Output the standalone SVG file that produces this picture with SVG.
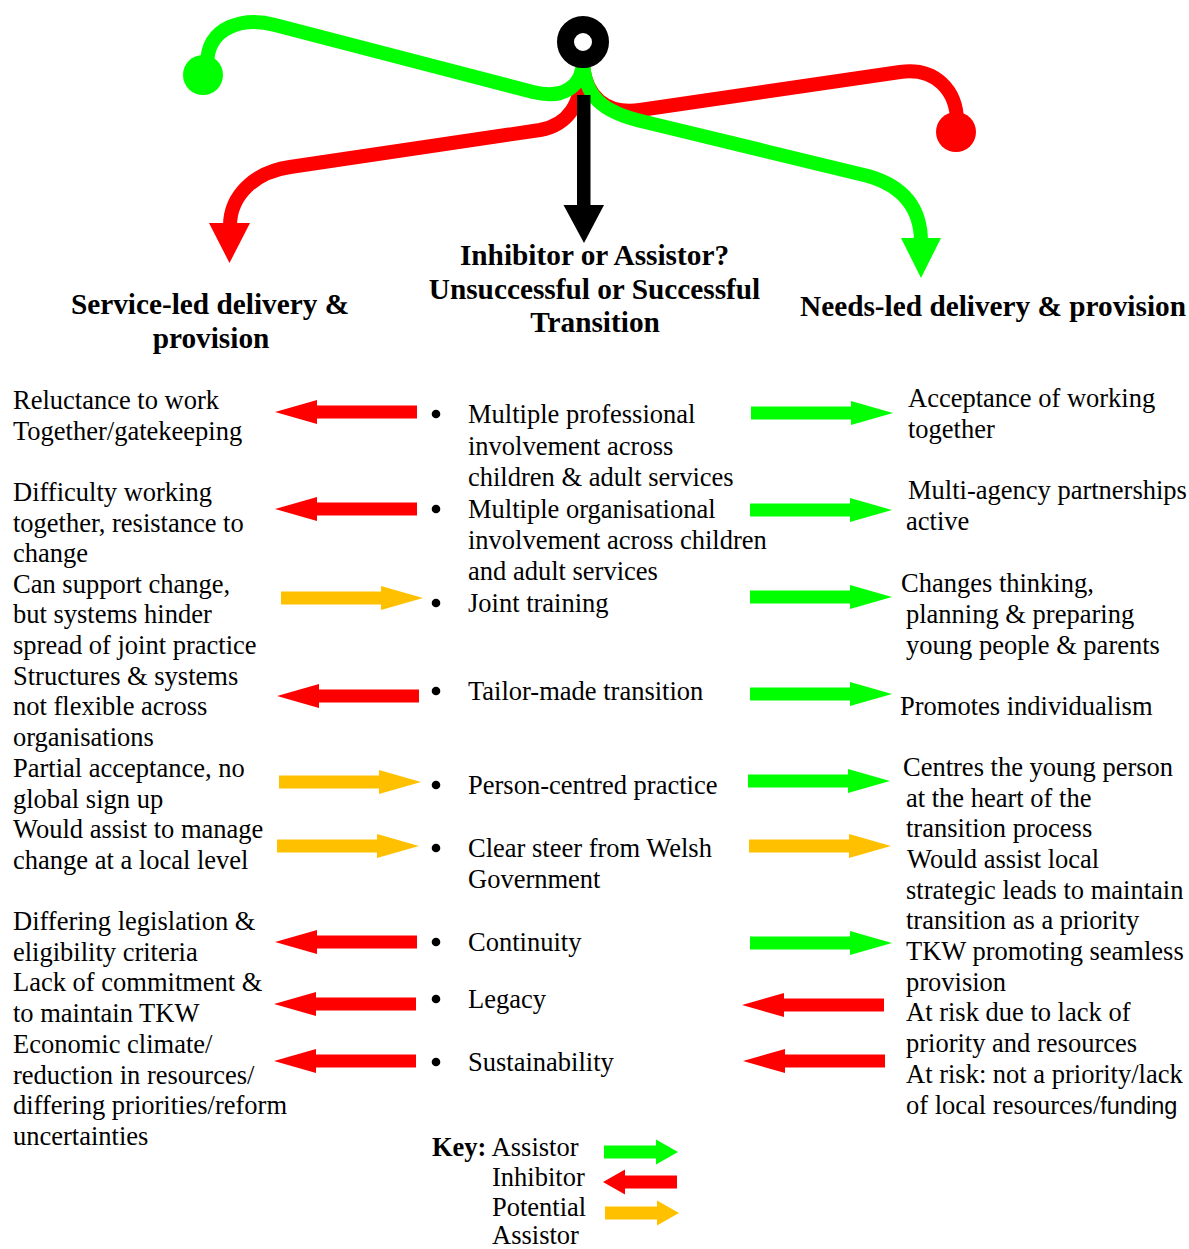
<svg xmlns="http://www.w3.org/2000/svg" xmlns:xlink="http://www.w3.org/1999/xlink" width="1189" height="1249" viewBox="0 0 1189 1249">
  <style>
    .t { font-family: "Liberation Serif", "Times New Roman", serif; font-size: 26.5px; fill: #000; }
    .h { font-family: "Liberation Serif", "Times New Roman", serif; font-size: 29.3px; font-weight: bold; fill: #000; text-anchor: middle; }
    .b { font-weight: bold; }
    .sans { font-family: "Liberation Sans", Arial, sans-serif; font-size: 23.5px; }
    .curve { fill: none; stroke-width: 14; stroke-linecap: butt; stroke-linejoin: round; }
    .green { fill: #00FF00; }
    .red { fill: #FF0000; }
    .amber { fill: #FFC000; }
  </style>
  <defs>
    <!-- block arrow pointing right, origin at tail centre -->
    <path id="blk" d="M0,-6.5 H100 V-12 L142,0 L100,12 V6.5 H0 Z"/>
    <!-- short block arrow used in the key -->
    <path id="keyblk" d="M0,-6.5 H52 V-12.5 L74,0 L52,12.5 V6.5 H0 Z"/>
    <circle id="dot" r="4.3"/>
  </defs>

  <rect width="1189" height="1249" fill="#fff"/>

  <!-- emblem: curved routes leaving the central ring -->
  <g id="emblem">
    <!-- red route to the left, ending in an arrowhead -->
    <path class="curve" stroke="#FF0000" d="M583,66 C582,105 568,125 540,130 L290,167 C255,172 230,195 230,226"/>
    <polygon fill="#FF0000" points="209,223 250,223 229.5,263"/>
    <!-- red route to the right, ending in a dot -->
    <path class="curve" stroke="#FF0000" d="M583,66 C586,95 605,115 640,110 L900,72 C935,67 957,90 957,122"/>
    <circle cx="956" cy="132" r="20" fill="#FF0000"/>
    <!-- green route to the left, ending in a dot -->
    <path class="curve" stroke="#00FF00" d="M583,60 C583,85 565,100 533,92 L275,25 C245,17 207,25 207,65"/>
    <circle cx="203" cy="75" r="20" fill="#00FF00"/>
    <!-- green route to the right, ending in an arrowhead -->
    <path class="curve" stroke="#00FF00" d="M583,60 C584,95 600,112 645,122 L868,176 C903,186 921,208 921,242"/>
    <polygon fill="#00FF00" points="901,238 941,238 921,278"/>
    <!-- black downward arrow -->
    <rect x="577" y="95" width="13.5" height="113" fill="#000"/>
    <polygon fill="#000" points="563.5,205 604,205 584,243"/>
    <!-- ring -->
    <circle cx="583" cy="42" r="17.5" fill="#fff" stroke="#000" stroke-width="17"/>
  </g>

  <!-- column headings -->
  <g id="head-left">
    <text class="h" x="210" y="314">Service-led delivery &amp;</text>
    <text class="h" x="211" y="348">provision</text>
  </g>
  <g id="head-centre">
    <text class="h" x="594.5" y="265">Inhibitor or Assistor?</text>
    <text class="h" x="594.5" y="299">Unsuccessful or Successful</text>
    <text class="h" x="595" y="332">Transition</text>
  </g>
  <g id="head-right">
    <text class="h" x="993" y="316">Needs-led delivery &amp; provision</text>
  </g>

  <!-- service-led outcomes -->
  <g id="left-col" class="t">
    <text x="13" y="409">Reluctance to work</text>
    <text x="13" y="440">Together/gatekeeping</text>
    <text x="13" y="501">Difficulty working</text>
    <text x="13" y="532">together, resistance to</text>
    <text x="13" y="562">change</text>
    <text x="13" y="593">Can support change,</text>
    <text x="13" y="623">but systems hinder</text>
    <text x="13" y="654">spread of joint practice</text>
    <text x="13" y="685">Structures &amp; systems</text>
    <text x="13" y="715">not flexible across</text>
    <text x="13" y="746">organisations</text>
    <text x="13" y="777">Partial acceptance, no</text>
    <text x="13" y="808">global sign up</text>
    <text x="13" y="838">Would assist to manage</text>
    <text x="13" y="869">change at a local level</text>
    <text x="13" y="930">Differing legislation &amp;</text>
    <text x="13" y="961">eligibility criteria</text>
    <text x="13" y="991">Lack of commitment &amp;</text>
    <text x="13" y="1022">to maintain TKW</text>
    <text x="13" y="1053">Economic climate/</text>
    <text x="13" y="1084">reduction in resources/</text>
    <text x="13" y="1114">differing priorities/reform</text>
    <text x="13" y="1145">uncertainties</text>
  </g>

  <!-- transition factors -->
  <g id="centre-col" class="t">
    <use xlink:href="#dot" x="436" y="414"/>
    <use xlink:href="#dot" x="436" y="509"/>
    <use xlink:href="#dot" x="436" y="603"/>
    <use xlink:href="#dot" x="436" y="691"/>
    <use xlink:href="#dot" x="436" y="785"/>
    <use xlink:href="#dot" x="436" y="848"/>
    <use xlink:href="#dot" x="436" y="942"/>
    <use xlink:href="#dot" x="436" y="999"/>
    <use xlink:href="#dot" x="436" y="1062"/>
    <text x="468" y="423">Multiple professional</text>
    <text x="468" y="455">involvement across</text>
    <text x="468" y="486">children &amp; adult services</text>
    <text x="468" y="518">Multiple organisational</text>
    <text x="468" y="549">involvement across children</text>
    <text x="468" y="580">and adult services</text>
    <text x="468" y="612">Joint training</text>
    <text x="468" y="700">Tailor-made transition</text>
    <text x="468" y="794">Person-centred practice</text>
    <text x="468" y="857">Clear steer from Welsh</text>
    <text x="468" y="888">Government</text>
    <text x="468" y="951">Continuity</text>
    <text x="468" y="1008">Legacy</text>
    <text x="468" y="1071">Sustainability</text>
  </g>

  <!-- needs-led outcomes -->
  <g id="right-col" class="t">
    <text x="908" y="407">Acceptance of working</text>
    <text x="908" y="438">together</text>
    <text x="908" y="499">Multi-agency partnerships</text>
    <text x="906" y="530">active</text>
    <text x="901" y="592">Changes thinking,</text>
    <text x="906" y="623">planning &amp; preparing</text>
    <text x="906" y="654">young people &amp; parents</text>
    <text x="900" y="715">Promotes individualism</text>
    <text x="903" y="776">Centres the young person</text>
    <text x="906" y="807">at the heart of the</text>
    <text x="906" y="837">transition process</text>
    <text x="907" y="868">Would assist local</text>
    <text x="906" y="899">strategic leads to maintain</text>
    <text x="906" y="929">transition as a priority</text>
    <text x="906" y="960">TKW promoting seamless</text>
    <text x="906" y="991">provision</text>
    <text x="906" y="1021">At risk due to lack of</text>
    <text x="906" y="1052">priority and resources</text>
    <text x="906" y="1083">At risk: not a priority/lack</text>
    <text x="906" y="1114">of local resources/<tspan class="sans">funding</tspan></text>
  </g>

  <!-- block arrows between the columns -->
  <g id="connectors">
    <!-- service-led side -->
    <use xlink:href="#blk" class="red" transform="translate(417,412) scale(-1,1)"/>
    <use xlink:href="#blk" class="red" transform="translate(417,509) scale(-1,1)"/>
    <use xlink:href="#blk" class="amber" transform="translate(281,598)"/>
    <use xlink:href="#blk" class="red" transform="translate(419,696) scale(-1,1)"/>
    <use xlink:href="#blk" class="amber" transform="translate(279,782)"/>
    <use xlink:href="#blk" class="amber" transform="translate(277,846)"/>
    <use xlink:href="#blk" class="red" transform="translate(417,942) scale(-1,1)"/>
    <use xlink:href="#blk" class="red" transform="translate(416,1004) scale(-1,1)"/>
    <use xlink:href="#blk" class="red" transform="translate(416,1061) scale(-1,1)"/>
    <!-- needs-led side -->
    <use xlink:href="#blk" class="green" transform="translate(751,413)"/>
    <use xlink:href="#blk" class="green" transform="translate(750,510)"/>
    <use xlink:href="#blk" class="green" transform="translate(750,597)"/>
    <use xlink:href="#blk" class="green" transform="translate(750,694)"/>
    <use xlink:href="#blk" class="green" transform="translate(748,781)"/>
    <use xlink:href="#blk" class="amber" transform="translate(749,846)"/>
    <use xlink:href="#blk" class="green" transform="translate(750,943)"/>
    <use xlink:href="#blk" class="red" transform="translate(884,1005) scale(-1,1)"/>
    <use xlink:href="#blk" class="red" transform="translate(885,1061) scale(-1,1)"/>
  </g>

  <!-- key -->
  <g id="key" class="t">
    <text x="432" y="1156"><tspan class="b">Key:</tspan> Assistor</text>
    <text x="492" y="1186">Inhibitor</text>
    <text x="492" y="1216">Potential</text>
    <text x="492" y="1244">Assistor</text>
    <use xlink:href="#keyblk" class="green" transform="translate(604,1152)"/>
    <use xlink:href="#keyblk" class="red" transform="translate(677,1182) scale(-1,1)"/>
    <use xlink:href="#keyblk" class="amber" transform="translate(605,1213)"/>
  </g>
</svg>
